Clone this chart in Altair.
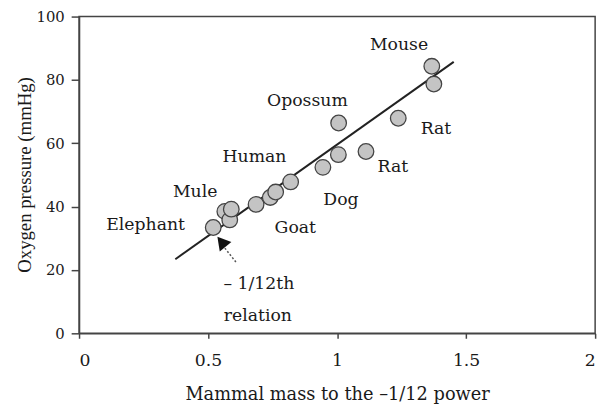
import altair as alt
import pandas as pd

# Data points (x = mass^-1/12, y = oxygen pressure mmHg)
pt_x = [0.565, 0.52, 0.584, 0.59, 0.686, 0.741, 0.762, 0.82, 0.945, 1.005, 1.006, 1.112, 1.237, 1.367, 1.375]
pt_y = [38.5, 33.4, 35.8, 39.2, 40.7, 42.9, 44.6, 47.8, 52.4, 56.4, 66.4, 57.4, 67.9, 84.3, 78.7]

# Fitted -1/12th relation line
line_x = [0.373, 1.452]
line_y = [23.4, 85.7]

# Animal labels
lab_text = ["Mouse", "Opossum", "Human", "Mule", "Elephant", "Goat", "Dog"]
lab_x = [1.24, 0.885, 0.68, 0.45, 0.258, 0.838, 1.015]
lab_y = [91.0, 73.2, 55.5, 44.5, 34.3, 33.3, 42.1]
rat_text = ["Rat", "Rat"]
rat_x = [1.324, 1.157]
rat_y = [64.4, 52.6]

# Annotation
ann_text = ["– 1/12th", "relation"]
ann_x = [0.697, 0.693]
ann_y = [15.6, 5.6]
arrow_x = [0.609, 0.565]
arrow_y = [22.4, 26.9]
head_x = [0.552]
head_y = [28.9]

FONT = "DejaVu Serif"
FONT_V = "Liberation Serif"
FS = 17.5

xs = alt.Scale(domain=[0, 2], nice=False, zero=False)
ys = alt.Scale(domain=[0, 100], nice=False, zero=False)

pts = pd.DataFrame({"x": pt_x, "y": pt_y, "o": list(range(len(pt_x)))})
ln = pd.DataFrame({"x": line_x, "y": line_y})
labs = pd.DataFrame({"x": lab_x, "y": lab_y, "t": lab_text})
rats = pd.DataFrame({"x": rat_x, "y": rat_y, "t": rat_text})
ann = pd.DataFrame({"x": ann_x, "y": ann_y, "t": ann_text})
arr = pd.DataFrame({"x": arrow_x, "y": arrow_y})
head = pd.DataFrame({"x": head_x, "y": head_y})

xenc = alt.X("x:Q", scale=xs, axis=alt.Axis(
    title="Mammal mass to the –1/12 power", values=[0, 0.5, 1, 1.5, 2], format="~g",
    grid=False, tickSize=5, labelPadding=14, labelFontSize=17.5, labelFont=FONT,
    titleFont=FONT, titleFontSize=18, titleY=62, titleBaseline="middle"))
yenc = alt.Y("y:Q", scale=ys, axis=alt.Axis(
    title="Oxygen pressure (mmHg)", values=[0, 20, 40, 60, 80, 100],
    grid=False, tickSize=8, labelPadding=7, labelFontSize=15, labelFont=FONT,
    titleFont=FONT_V, titleFontSize=19, titleX=-55, titleY=160,
    titleBaseline="middle", titleAlign="center"))

line = alt.Chart(ln).mark_line(color="#222", strokeWidth=2).encode(x=xenc, y=yenc)

points = alt.Chart(pts).mark_point(
    filled=True, fill="#c4c4c4", stroke="#444", strokeWidth=1.3, size=250, opacity=1,
    fillOpacity=1, shape="circle"
).encode(x="x:Q", y="y:Q", order="o:Q")

labels = alt.Chart(labs).mark_text(font=FONT, fontSize=FS, color="#1a1a1a", align="center", baseline="middle").encode(
    x="x:Q", y="y:Q", text="t:N")
rat_labels = alt.Chart(rats).mark_text(font=FONT, fontSize=FS, color="#1a1a1a", align="left", baseline="middle").encode(
    x="x:Q", y="y:Q", text="t:N")
ann_labels = alt.Chart(ann).mark_text(font=FONT, fontSize=FS, color="#1a1a1a", align="center", baseline="middle").encode(
    x="x:Q", y="y:Q", text="t:N")
arrow_line = alt.Chart(arr).mark_line(color="#555", strokeWidth=1.5, strokeDash=[2, 2]).encode(x="x:Q", y="y:Q")
arrow_head = alt.Chart(head).mark_point(shape="triangle-up", filled=True, color="#111", size=230, angle=321, opacity=1).encode(
    x="x:Q", y="y:Q")

chart = alt.layer(line, arrow_line, points, arrow_head, labels, rat_labels, ann_labels).properties(
    width=523, height=321,
    autosize=alt.AutoSizeParams(type="none"),
    padding={"left": 72, "top": 6, "right": 10, "bottom": 74},
).configure_view(stroke="#444", strokeWidth=1.5).configure_axis(
    labelColor="#1a1a1a", titleColor="#1a1a1a", titleFontWeight="normal",
    domainColor="#444", domainWidth=1.5, tickColor="#444", tickWidth=1.5,
)

chart.save("out.html", embed_options={"renderer": "svg", "actions": False})
